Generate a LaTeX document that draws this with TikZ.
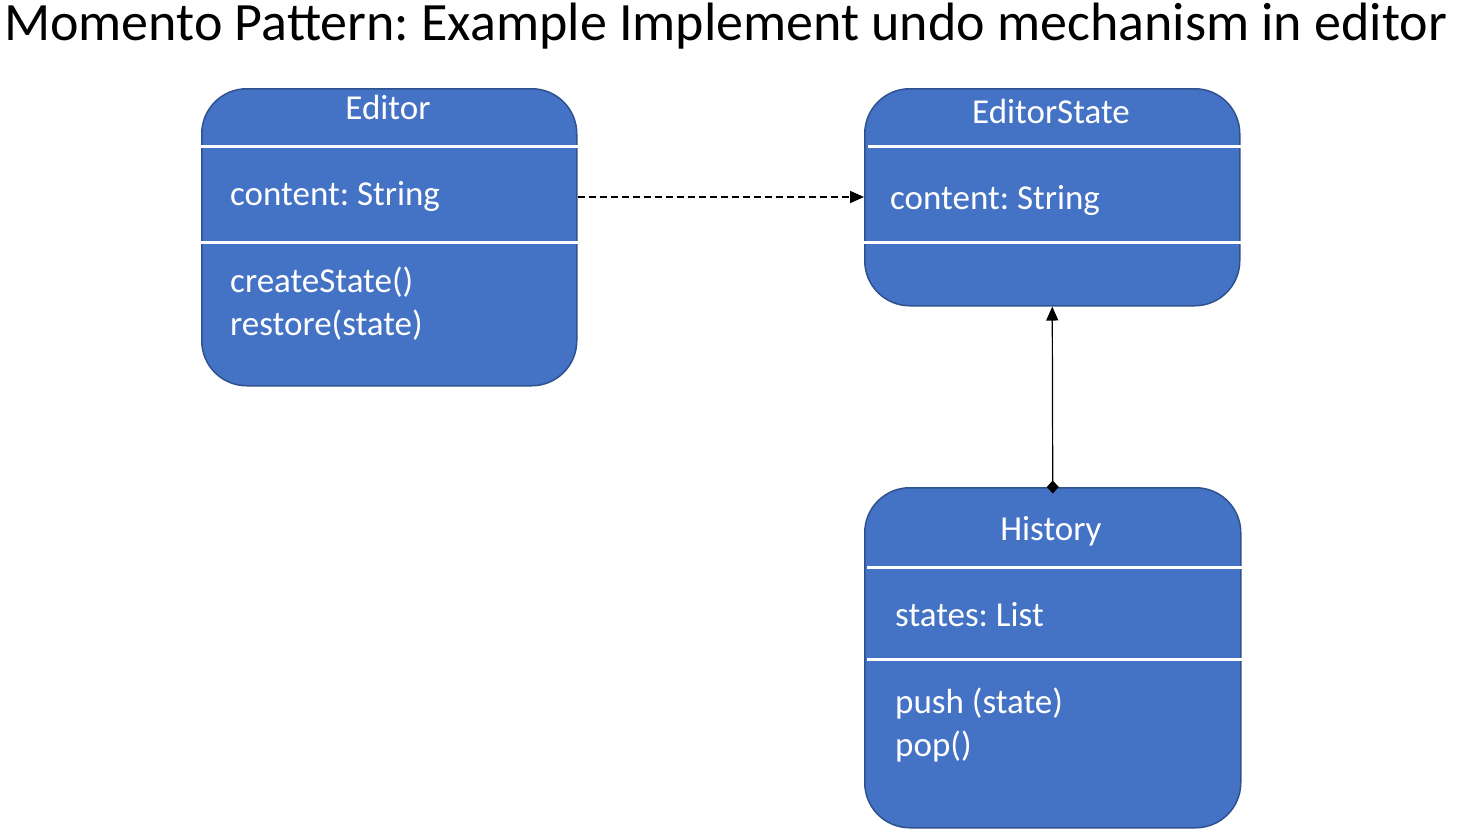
\documentclass[tikz,border=0pt]{standalone}
\usepackage{fontspec}
\setmainfont{Carlito}
\usepackage{xcolor}
\usetikzlibrary{positioning,arrows.meta}
\frenchspacing

\definecolor{boxblue}{HTML}{4472C4}
\definecolor{boxedge}{HTML}{2F528F}

\begin{document}
\begin{tikzpicture}[x=1pt,y=-1pt,
    classbox/.style={rectangle, rounded corners=45pt, fill=boxblue, draw=boxedge,
        line width=1.5pt, inner sep=0pt, anchor=north west},
    divider/.style={white, line width=3pt},
    member/.style={text=white, inner sep=0pt, anchor=base west,
        font=\fontsize{35}{40}\selectfont},
    classname/.style={member, anchor=base},
    depends/.style={dash pattern=on 7pt off 4pt, line width=1.8pt,
        -{Triangle[length=14pt,width=12pt]}},
    holds/.style={line width=1.2pt, {Diamond[length=13pt,width=12pt]}-{Triangle[length=14pt,width=12pt]},
        shorten <=-6.5pt}]
    \useasboundingbox (0,0) rectangle (1461,831);
    % title
    \node[anchor=base west, inner sep=0pt, font=\fontsize{54}{64}\selectfont] (title) at (4,40)
        {Momento Pattern: Example Implement undo mechanism in editor};
    % Editor
    \node[classbox, minimum width=375pt, minimum height=297pt] (editor) at (201,88) {};
    \draw[divider] (editor.west |- 0,146) -- (editor.east |- 0,146);
    \draw[divider] (editor.west |- 0,242) -- (editor.east |- 0,242);
    \node[classname] (editorname) at (388,119) {Editor};
    \node[member] (editorcontent) at (230,205.5) {content: String};
    \node[member] (editorcreate) at (230,292.5) {createState()};
    \node[member] (editorrestore) at (230,335.5) {restore(state)};
    % EditorState
    \node[classbox, minimum width=375pt, minimum height=217pt] (state) at (864,88) {};
    \draw[divider] (868,146) -- (state.east |- 0,146);
    \draw[divider] (state.west |- 0,242) -- (state.east |- 0,242);
    \node[classname] (statename) at (1051,123.5) {EditorState};
    \node[member] (statecontent) at (890,209.5) {content: String};
    % History
    \node[classbox, minimum width=376pt, minimum height=340pt] (history) at (864,487) {};
    \draw[divider] (867,567) -- (history.east |- 0,567);
    \draw[divider] (867,659) -- (history.east |- 0,659);
    \node[classname] (historyname) at (1051,540.5) {History};
    \node[member] (historystates) at (895,626.5) {states: List};
    \node[member] (historypush) at (895,713.5) {push (state)};
    \node[member] (historypop) at (895,756.5) {pop()};
    % connectors
    \draw[depends] (editor.east |- 0,197) -- (state.west |- 0,197);
    \draw[holds] (history.north) -- (state.south);
\end{tikzpicture}
\end{document}
